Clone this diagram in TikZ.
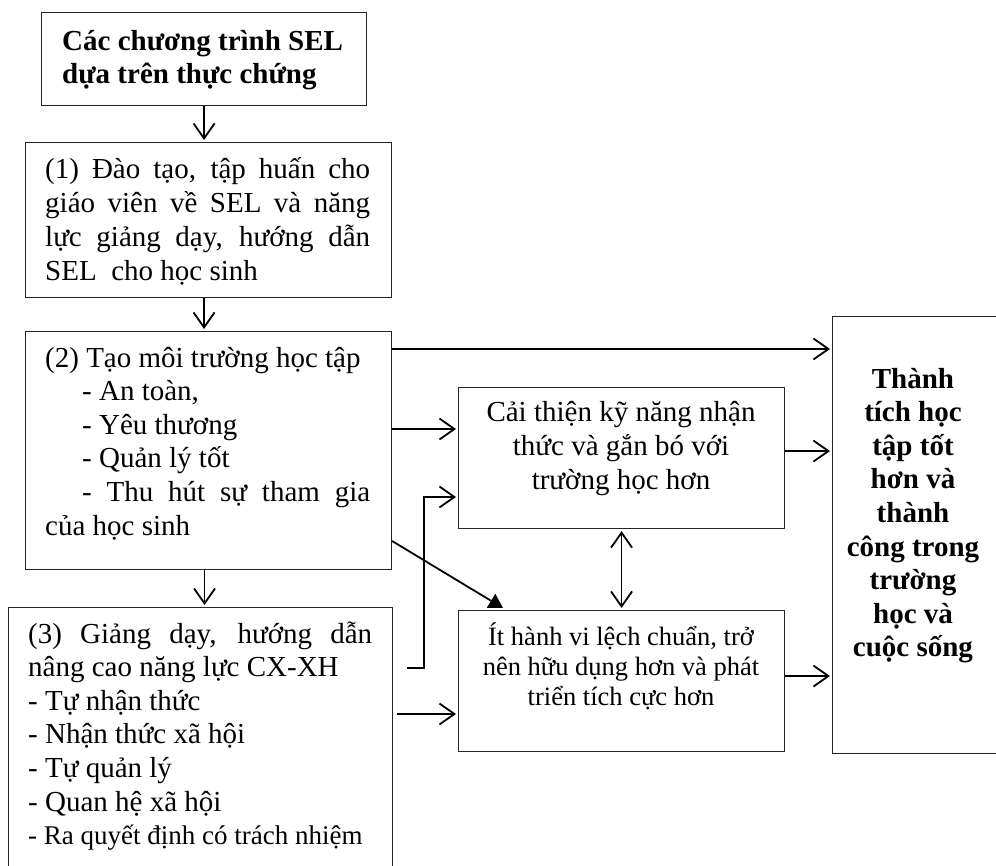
\documentclass[tikz,border=0pt]{standalone}
\usepackage{fontspec}
\setmainfont{Liberation Serif}
\usetikzlibrary{arrows.meta,calc}
\newcommand\myjl[1]{\hbox to\hsize{#1}}
\newcommand\myln[1]{\hbox{#1}}
\newcommand\mycl[1]{\hbox to\hsize{\hfil#1\hfil}}
\tikzset{
  boxnode/.style={draw=black!85, line width=1.1pt, rectangle, inner sep=0pt, anchor=north west},
  txt/.style={inner sep=0pt, anchor=base west},
  ctxt/.style={inner sep=0pt, anchor=base},
  arr/.style={line width=1.8pt, -{Straight Barb[length=15pt,width=21pt]}, shorten >=2pt},
  darr/.style={line width=1.8pt, {Straight Barb[length=15pt,width=21pt]}-{Straight Barb[length=15pt,width=21pt]}, shorten >=2pt, shorten <=2pt},
  tri/.style={line width=1.8pt, -{Triangle[length=14pt,width=16pt]}}
}
\begin{document}
\begin{tikzpicture}[x=1pt,y=-1pt]
\useasboundingbox (0,0) rectangle (996,865);
\clip (0,0) rectangle (996,865);
% boxes
\node[boxnode, minimum width=325pt, minimum height=93pt] (sel) at (41,12) {};
\node[boxnode, minimum width=366pt, minimum height=155pt] (b1) at (25,142) {};
\node[boxnode, minimum width=366pt, minimum height=238pt] (b2) at (25,331) {};
\node[boxnode, minimum width=384pt, minimum height=300pt] (b3) at (8,607) {};
\node[boxnode, minimum width=326pt, minimum height=141pt] (ci) at (458,387) {};
\node[boxnode, minimum width=326pt, minimum height=141pt] (it) at (458,610) {};
\node[boxnode, minimum width=180pt, minimum height=437pt] (res) at (832,316) {};
% texts
\node[txt] (tsel) at (62,50) {\bfseries\fontsize{29pt}{33pt}\selectfont\vtop{\hsize=295pt\lineskiplimit=-100pt
  \myln{Các chương trình SEL}\myln{dựa trên thực chứng}}};
\node[txt] (tb1) at (45,178) {\fontsize{29pt}{34pt}\selectfont\vtop{\hsize=325pt\lineskiplimit=-100pt
  \myjl{(1) Đào tạo, tập huấn cho}
  \myjl{giáo viên về SEL và năng}
  \myjl{lực giảng dạy, hướng dẫn}
  \myln{SEL\ \ cho học sinh}}};
\node[txt] (tb2) at (45,367) {\fontsize{29pt}{33.6pt}\selectfont\vtop{\hsize=325pt\lineskiplimit=-100pt
  \myln{(2) Tạo môi trường học tập}
  \myln{\hskip37pt- An toàn,}
  \myln{\hskip37pt- Yêu thương}
  \myln{\hskip37pt- Quản lý tốt}
  \myjl{\hskip37pt- Thu hút sự tham gia}
  \myln{của học sinh}}};
\node[txt] (tb3) at (28,643) {\fontsize{29pt}{33.6pt}\selectfont\vtop{\hsize=344pt\lineskiplimit=-100pt
  \myjl{(3) Giảng dạy, hướng dẫn}
  \myln{nâng cao năng lực CX-XH}
  \myln{- Tự nhận thức}
  \myln{- Nhận thức xã hội}
  \myln{- Tự quản lý}
  \myln{- Quan hệ xã hội}
  \myln{\fontsize{27pt}{33pt}\selectfont - Ra quyết định có trách nhiệm}}};
\node[ctxt] (tci) at (621,421) {\fontsize{29pt}{34pt}\selectfont\vtop{\hsize=320pt\lineskiplimit=-100pt
  \mycl{Cải thiện kỹ năng nhận}
  \mycl{thức và gắn bó với}
  \mycl{trường học hơn}}};
\node[ctxt] (tit) at (621,645) {\fontsize{26.5pt}{30pt}\selectfont\vtop{\hsize=320pt\lineskiplimit=-100pt
  \mycl{Ít hành vi lệch chuẩn, trở}
  \mycl{nên hữu dụng hơn và phát}
  \mycl{triển tích cực hơn}}};
\node[ctxt] (tres) at (913,388) {\bfseries\fontsize{29pt}{33.6pt}\selectfont\vtop{\hsize=170pt\lineskiplimit=-100pt
  \mycl{Thành}\mycl{tích học}\mycl{tập tốt}\mycl{hơn và}\mycl{thành}
  \mycl{công trong}\mycl{trường}\mycl{học và}\mycl{cuộc sống}}};
% connectors
\coordinate (a2) at ($(b1.south)+(-4.5,0)$);
\coordinate (a3) at ($(b2.south)+(-4,0)$);
\coordinate (s1) at ($(b2.north east)+(0,18)$);
\coordinate (s2) at ($(b2.north east)+(0,98)$);
\coordinate (e0) at ($(b3.north east)+(14,61)$);
\coordinate (d0) at ($(b2.north east)+(0,210)$);
\coordinate (s3) at ($(b3.north east)+(4,107)$);
\coordinate (c1) at ($(ci.east)+(0,-7)$);
\coordinate (c2) at ($(it.east)+(0,-5)$);
\draw[arr] (sel.south) -- (sel.south |- b1.north);
\draw[arr] (a2) -- (a2 |- b2.north);
\draw[arr] (a3) -- (a3 |- b3.north);
\draw[arr] (s1) -- (s1 -| res.west);
\draw[arr] (s2) -- (s2 -| ci.west);
\draw[arr] (e0) -- ++(17,0) |- ($(ci.north west)+(0,110)$);
\draw[tri] (d0) -- ($(it.north west)+(45,-2)$);
\draw[arr] (s3) -- (s3 -| it.west);
\draw[darr] (ci.south) -- (it.north);
\draw[arr] (c1) -- (c1 -| res.west);
\draw[arr] (c2) -- (c2 -| res.west);
\end{tikzpicture}
\end{document}
